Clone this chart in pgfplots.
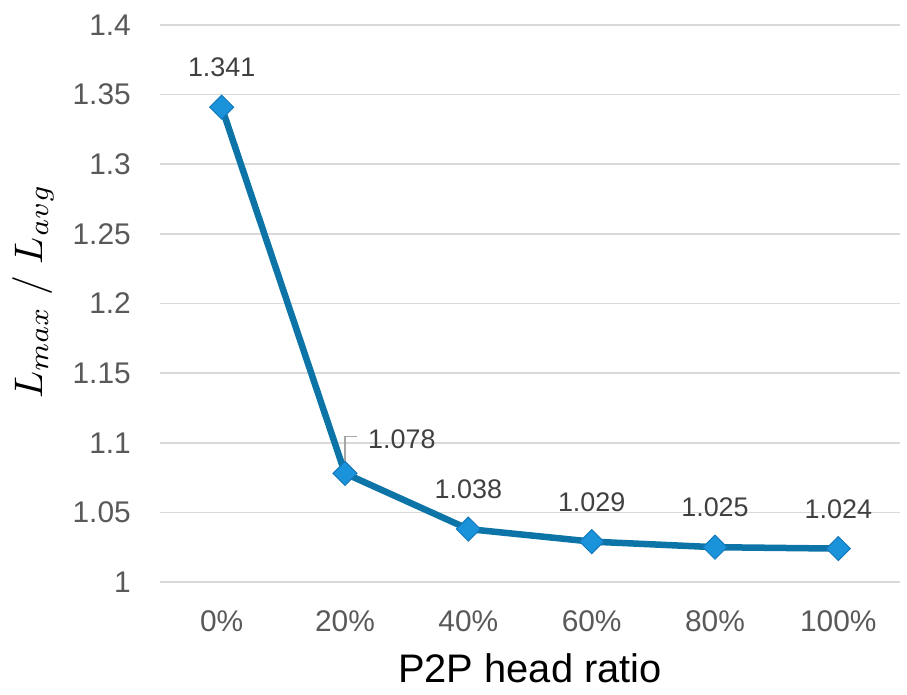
\documentclass[border=0pt]{standalone}
\usepackage{graphicx}
\usepackage{pgfplots}
\pgfplotsset{compat=1.18}
\usepackage{fontspec}
\setmainfont{Liberation Sans}

\definecolor{linec}{HTML}{0C74A6}
\definecolor{markc}{HTML}{1B93DB}
\definecolor{marke}{HTML}{1479BC}
\definecolor{tickc}{HTML}{595959}
\definecolor{labc}{HTML}{404040}
\definecolor{gridc}{HTML}{D9D9D9}
\definecolor{leadc}{HTML}{A6A6A6}

\begin{document}
\begin{tikzpicture}
  \begin{axis}[
    scale only axis,
    width=740bp, height=557bp,
    xmin=-0.5, xmax=5.5,
    ymin=1, ymax=1.4,
    xtick={0,1,2,3,4,5},
    xticklabels={0\%,20\%,40\%,60\%,80\%,100\%},
    ytick={1,1.05,1.1,1.15,1.2,1.25,1.3,1.35,1.4},
    yticklabels={1,1.05,1.1,1.15,1.2,1.25,1.3,1.35,1.4},
    axis line style={draw=none},
    tick style={draw=none},
    ymajorgrids,
    grid style={gridc, line width=1.5bp},
    /pgf/number format/assume math mode=true,
    ticklabel style={font=\fontsize{30}{36}\selectfont, text=tickc, inner sep=0pt},
    yticklabel style={anchor=east, xshift=-29bp},
    xticklabel style={anchor=base, yshift=-49bp},
    xlabel={P2P head ratio},
    xlabel style={font=\fontsize{40}{48}\selectfont, at={(axis description cs:0.5,0)}, anchor=base, yshift=-100bp, inner sep=0pt},
    ylabel={\scalebox{4}{$L_{max}\ /\ L_{avg}$}},
    ylabel style={at={(axis description cs:0,0.5)}, anchor=center, yshift=127bp, xshift=12bp, inner sep=0pt},
    clip=false,
  ]
    % line with markers
    \addplot [linec, line width=6.5bp, mark=square*, mark size=8.5bp,
      mark options={fill=markc, draw=marke, line width=1bp, rotate=45}]
      coordinates {(0,1.341) (1,1.078) (2,1.038) (3,1.029) (4,1.025) (5,1.024)};

    % data labels above points
    \addplot [draw=none, mark=none,
      nodes near coords,
      point meta=explicit symbolic,
      every node near coord/.append style={font=\fontsize{27}{32}\selectfont, text=labc, inner sep=0pt, yshift=30bp}]
      coordinates {(0,1.341) [1.341] (2,1.038) [1.038] (3,1.029) [1.029] (4,1.025) [1.025] (5,1.024) [1.024]};

    % label of the 20% point, set to the right with a leader line
    \coordinate (p20) at (axis cs:1,1.078);
    \draw [leadc, line width=1.5bp] ([yshift=5bp]p20) -- ([yshift=37bp]p20) -- ([xshift=12bp,yshift=37bp]p20);
    \node [anchor=base west, font=\fontsize{27}{32}\selectfont, text=labc, inner sep=0pt]
      at ([xshift=23bp,yshift=25bp]p20) {1.078};
  \end{axis}
  \pgfresetboundingbox
  \path ([xshift=-160bp,yshift=-112bp]current axis.south west) rectangle ([xshift=7bp,yshift=25bp]current axis.north east);
\end{tikzpicture}
\end{document}
